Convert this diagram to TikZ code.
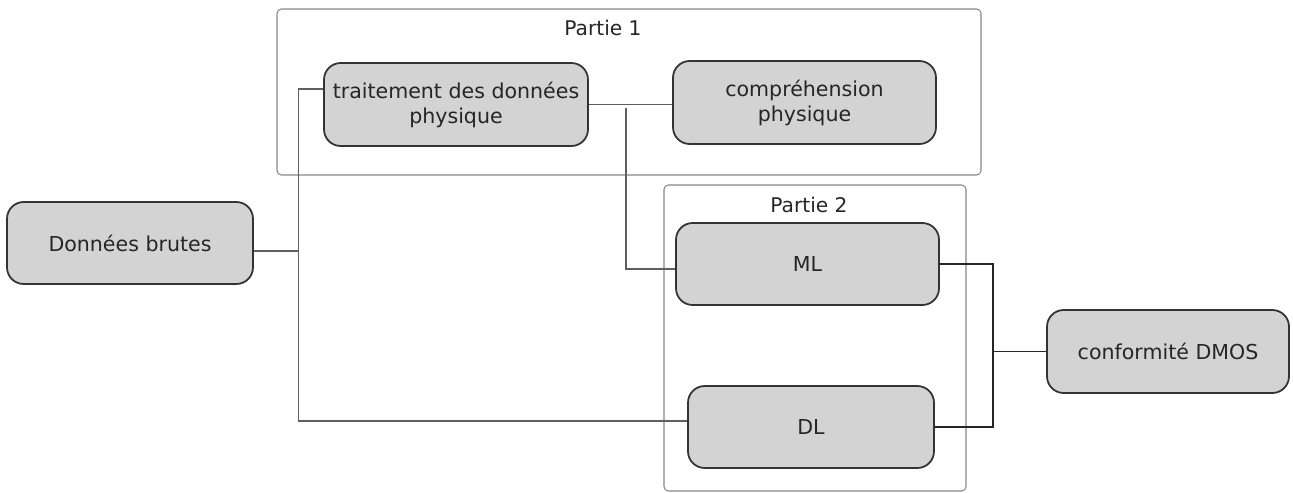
\documentclass[tikz,border=0pt]{standalone}
\usepackage{fontspec}
\setmainfont{DejaVu Sans}
\usetikzlibrary{positioning}
\definecolor{boxgray}{RGB}{211,211,211}
\definecolor{edgegray}{RGB}{51,51,51}
\definecolor{linegray}{RGB}{95,95,95}
\definecolor{framegray}{RGB}{135,135,135}

\begin{document}
\begin{tikzpicture}[
  blk/.style={rectangle, rounded corners=9.5pt, draw=edgegray, line width=1pt, fill=boxgray,
              align=center, inner sep=0pt, text=black!85, font=\fontsize{11.7}{14.2}\selectfont},
  part/.style={rounded corners=2.5pt, draw=framegray, line width=0.6pt},
  lbl/.style={text=black!85, font=\fontsize{11.5}{14}\selectfont},
  link/.style={draw=linegray, line width=0.7pt}
]
  \useasboundingbox (0,0) rectangle (25.86,-9.84);

  % the two parts
  \draw[part] (5.54,-0.18) rectangle (19.62,-3.5);
  \draw[part] (13.28,-3.7) rectangle (19.32,-9.82);
  \node[lbl] (p1) at (12.06,-0.56) {Partie 1};
  \node[lbl] (p2) at (16.18,-4.1)  {Partie 2};

  \node[blk, minimum width=4.92cm, minimum height=1.64cm] (brutes) at (2.6,-4.86)   {Données brutes};
  \node[blk, minimum width=5.28cm, minimum height=1.66cm] (trait)  at (9.12,-2.09)  {traitement des données\\physique};
  \node[blk, minimum width=5.26cm, minimum height=1.66cm] (compr)  at (16.09,-2.05) {compréhension\\physique};
  \node[blk, minimum width=5.26cm, minimum height=1.64cm] (ml)     at (16.15,-5.28) {ML};
  \node[blk, minimum width=4.92cm, minimum height=1.64cm] (dl)     at (16.22,-8.54) {DL};
  \node[blk, minimum width=4.84cm, minimum height=1.66cm] (conf)   at (23.36,-7.03) {conformité DMOS};

  \coordinate (jl)  at (5.97,-5.02);
  \coordinate (tap) at (12.52,-2.16);
  \coordinate (jr)  at (19.86,-7.03);

  \draw[link] ([yshift=-0.16cm]brutes.east) -- (jl);
  \draw[link] ([yshift=0.31cm]trait.west) -| (jl) |- ([yshift=0.12cm]dl.west);
  \draw[link] (trait.east) -- (trait.east -| compr.west);
  \draw[link] (tap) |- ([yshift=-0.1cm]ml.west);
  \draw[link, draw=black!85] (ml.east) -| (jr) |- (dl.east);
  \draw[link, draw=black!85] (jr) -- (conf.west);
\end{tikzpicture}
\end{document}
